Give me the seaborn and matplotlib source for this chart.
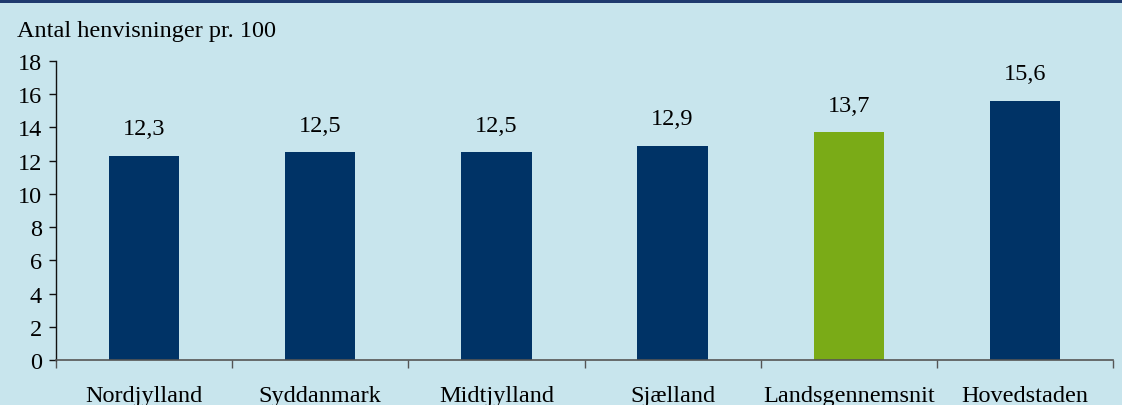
import matplotlib
matplotlib.use("Agg")
import matplotlib.pyplot as plt
import seaborn as sns
import pandas as pd
from matplotlib.patches import Rectangle

regions = ["Nordjylland", "Syddanmark", "Midtjylland", "Sjælland", "Landsgennemsnit", "Hovedstaden"]
values = [12.3, 12.5, 12.5, 12.9, 13.7, 15.6]
value_labels = ["12,3", "12,5", "12,5", "12,9", "13,7", "15,6"]
y_ticks = [0, 2, 4, 6, 8, 10, 12, 14, 16, 18]
y_title = "Antal henvisninger pr. 100"

navy = "#003366"
green = "#7AAB17"
bg = "#C8E5ED"
ink = "#000000"
fs = 17.5

sns.set_theme(style="white")
plt.rcParams["font.family"] = ["Liberation Serif", "DejaVu Serif"]

df = pd.DataFrame({"region": regions, "value": values})
palette = {r: (green if r == "Landsgennemsnit" else navy) for r in regions}

fig = plt.figure(figsize=(11.22, 4.06), dpi=100, facecolor=bg)
ax = fig.add_axes([56 / 1122, 1 - 361 / 406, (1113 - 56) / 1122, (361 - 62) / 406])
ax.set_facecolor(bg)

sns.barplot(data=df, x="region", y="value", hue="region", palette=palette,
            width=0.4, dodge=False, legend=False, saturation=1, linewidth=0, ax=ax)

for i, (v, lab) in enumerate(zip(values, value_labels)):
    ax.annotate(lab, xy=(i, v), xytext=(0, 12), textcoords="offset points",
                ha="center", va="bottom", fontsize=fs, color=ink)

ax.set_xlim(-0.5, len(regions) - 0.5)
ax.set_ylim(0, 18)
ax.set_yticks(y_ticks)
ax.set_yticklabels([str(t) for t in y_ticks], fontsize=fs, color=ink)
ax.set_xlabel("")
ax.set_ylabel("")

# category labels centred, tick marks on category boundaries
ax.set_xticks(range(len(regions)))
ax.set_xticklabels(regions, fontsize=fs, color=ink)
ax.tick_params(axis="x", which="major", length=0, pad=18, bottom=True)
ax.set_xticks([i - 0.5 for i in range(len(regions) + 1)], minor=True)
ax.tick_params(axis="x", which="minor", length=6, width=1, color="#555555",
               direction="out", bottom=True)
ax.tick_params(axis="y", length=5, width=1, color="#111111", direction="out",
               left=True, pad=5)

for s in ["top", "right"]:
    ax.spines[s].set_visible(False)
ax.spines["left"].set_color("#111111")
ax.spines["left"].set_linewidth(1)
ax.spines["bottom"].set_color("#555555")
ax.spines["bottom"].set_linewidth(1.2)

fig.text(17 / 1122, 1 - 31 / 406, y_title, fontsize=fs, color=ink,
         ha="left", va="center")

# dark band along the top edge
fig.patches.append(Rectangle((0, 1 - 4 / 406), 1, 4 / 406, transform=fig.transFigure,
                             facecolor="#1F3A6E", edgecolor="none"))

fig.savefig("out.png", dpi=100, facecolor=bg)
